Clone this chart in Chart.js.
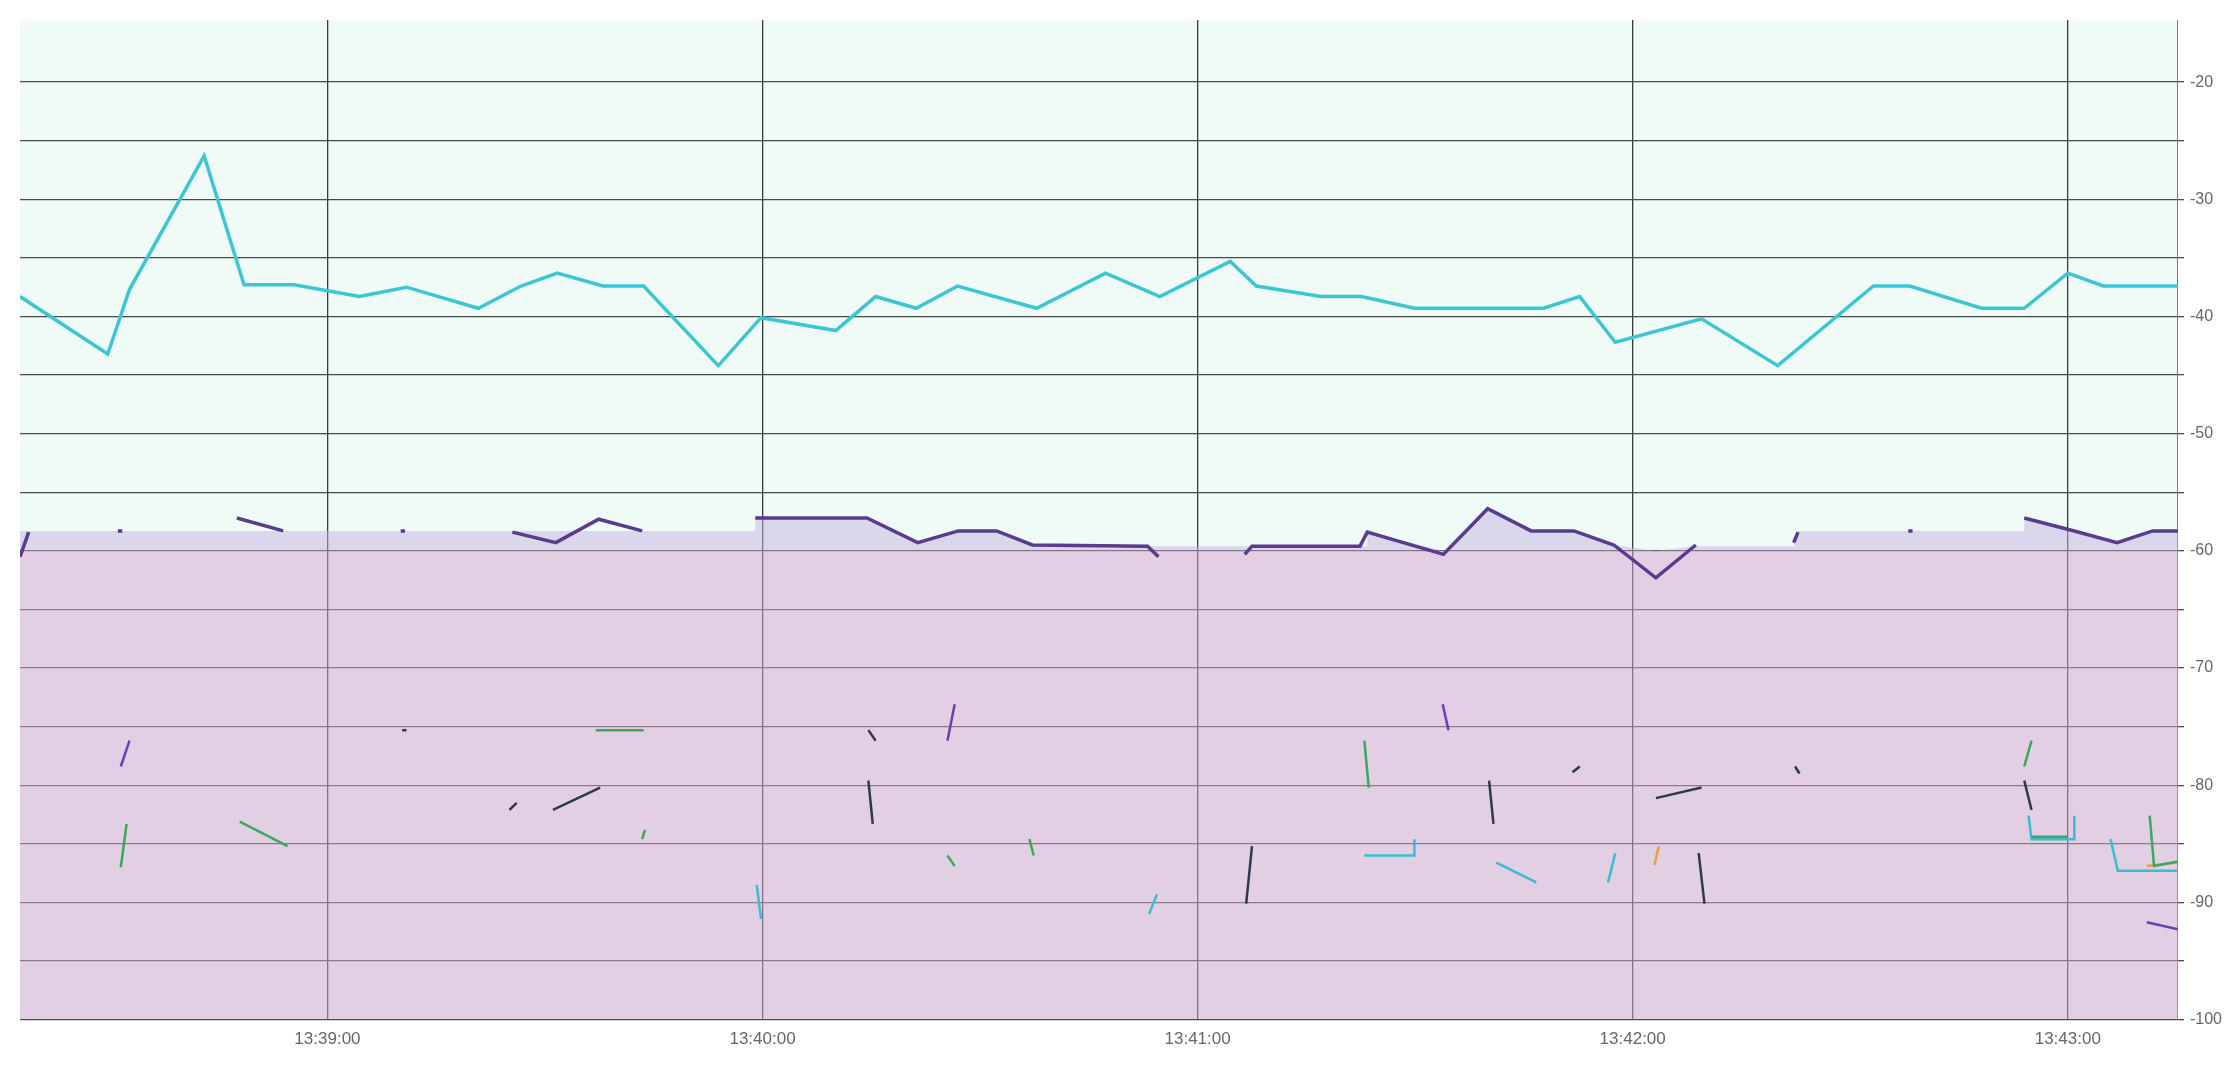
<!DOCTYPE html>
<html><head><meta charset="utf-8">
<script src="https://cdn.jsdelivr.net/npm/chart.js@4"></script>
<style>html,body{margin:0;background:#fff}canvas{display:block}</style>
</head><body><canvas id="c" width="2232" height="1068"></canvas>
<script>
// time in seconds after 13:38:00, level in dB
const xTicks = [60,120,180,240,300];
const yTicks = [-20,-30,-40,-50,-60,-70,-80,-90,-100];
const cyanT = [17.6,29.7,32.7,43.0,48.5,55.4,64.4,70.9,80.8,86.7,91.7,98.0,103.6,113.9,119.8,130.1,135.6,141.2,146.9,157.8,167.3,174.8,184.5,188.1,197.0,202.6,209.9,227.7,232.7,237.6,249.5,260.0,273.2,278.2,288.1,294.0,300.0,304.9,315.2];
const cyanV = [-38.3,-43.2,-37.7,-26.3,-37.3,-37.3,-38.3,-37.5,-39.3,-37.4,-36.3,-37.4,-37.4,-44.2,-40.1,-41.2,-38.3,-39.3,-37.4,-39.3,-36.3,-38.3,-35.3,-37.4,-38.3,-38.3,-39.3,-39.3,-38.3,-42.2,-40.2,-44.2,-37.4,-37.4,-39.3,-39.3,-36.3,-37.4,-37.4];
const purpleMain = [[17.6,-60.5],[18.8,-58.4],null,[31.1,-58.3],[31.7,-58.3],null,[47.5,-57.2],[53.9,-58.3],null,[70.1,-58.3],[70.7,-58.3],null,
 [85.5,-58.4],[91.5,-59.3],[97.4,-57.3],[103.4,-58.3],null,
 [119.0,-57.2],[134.4,-57.2],[141.4,-59.3],[147.0,-58.3],[152.3,-58.3],[157.2,-59.5],[173.1,-59.6],[174.6,-60.5],null,
 [186.5,-60.3],[187.5,-59.6],[202.4,-59.6],[203.4,-58.4],[213.9,-60.3],[220.0,-56.4],[226.0,-58.3],[231.9,-58.3],[237.4,-59.5],[243.2,-62.3],[248.7,-59.5],null,
 [262.2,-59.3],[262.8,-58.4],null,[278.0,-58.3],[278.6,-58.3],null,
 [294.0,-57.2],[300.9,-58.3],[306.8,-59.3],[311.7,-58.3],[315.2,-58.3]];
const envelope = [[17.6,-58.3],[119,-58.3],[119,-57.2],[134.4,-57.2],[141.4,-59.3],[147,-58.3],[152.3,-58.3],[157.2,-59.6],[203.4,-59.6],[203.4,-58.4],[213.9,-60],[220,-56.4],[226,-58.3],[232,-58.3],[237.4,-59.5],[243.2,-60],[248.7,-59.6],[262.2,-59.6],[262.8,-58.3],[294,-58.3],[294,-57.2],[300.9,-58.3],[306.8,-59.3],[311.7,-58.3],[315.2,-58.3]];
const floorLine = [[17.6,-60],[315.2,-60]];
const darkFrags = [[70.3,-75.3],[70.9,-75.3],null,[85.1,-82.1],[86.1,-81.5],null,[91.1,-82.1],[97.6,-80.2],null,[134.6,-75.3],[135.6,-76.2],null,[134.6,-79.6],[135.2,-83.3],null,[186.7,-90.1],[187.5,-85.2],null,[220.2,-79.6],[220.8,-83.3],null,[231.7,-78.9],[232.7,-78.4],null,[243.2,-81.1],[249.5,-80.2],null,[249.1,-85.8],[249.9,-90.1],null,[262.4,-78.4],[263.0,-79.0],null,[294.0,-79.6],[295.0,-82.1]];
const greenFrags = [[31.5,-87.0],[32.3,-83.3],null,[47.9,-83.1],[54.5,-85.2],null,[97.0,-75.3],[103.6,-75.3],null,[103.4,-84.6],[103.8,-83.8],null,[145.5,-86.0],[146.5,-86.9],null,[156.8,-84.6],[157.4,-86.0],null,[203.0,-76.2],[203.6,-80.2],null,[294.0,-78.4],[295.0,-76.2],null,[295.0,-84.4],[300.0,-84.4],null,[311.3,-82.6],[311.9,-86.9],[315.2,-86.5]];
const purpleFrags = [[31.5,-78.4],[32.7,-76.2],null,[145.5,-76.2],[146.5,-73.1],null,[213.8,-73.1],[214.6,-75.3],null,[310.9,-91.7],[315.2,-92.3]];
const tealFrags = [[119.2,-88.5],[119.8,-91.4],null,[173.3,-91.0],[174.4,-89.3],null,[203.0,-86.0],[209.9,-86.0],[209.9,-84.6],null,[221.2,-86.6],[226.7,-88.3],null,[236.6,-88.3],[237.6,-85.8],null,[294.6,-82.6],[295.0,-84.6],[300.9,-84.6],[300.9,-82.6],null,[305.9,-84.6],[306.9,-87.3],[315.2,-87.3]];
const orangeFrags = [[243.0,-86.8],[243.6,-85.2],null,[310.9,-86.9],[315.2,-86.6]];

const pts = a => a.map(p => p ? {x:p[0], y:p[1]} : {x:NaN, y:null});
const seg = (data, color, w) => ({data: pts(data), borderColor: color, borderWidth: w, pointRadius: 0, fill: false, spanGaps: false, tension: 0});

const bgPlugin = {id:'bg', beforeDraw(c){const a=c.chartArea, x=c.ctx; x.save(); x.fillStyle='#f0fbf8'; x.fillRect(a.left,a.top,a.right-a.left,a.bottom-a.top); x.restore();}};

new Chart(document.getElementById('c'), {
  type: 'line',
  data: { datasets: [
    seg(cyanT.map((t,i)=>[t,cyanV[i]]), '#3cc6d2', 3.5),
    seg(purpleMain, '#5a3b8e', 3.5),
    seg(darkFrags, '#2b3a50', 2.5),
    seg(greenFrags, '#3aa860', 2.5),
    seg(purpleFrags, '#6a3fb0', 2.5),
    seg(tealFrags, '#3bbcd0', 2.5),
    seg(orangeFrags, '#e8a040', 2.5),
    {data: pts(floorLine), borderWidth: 0, pointRadius: 0, fill: 'start', backgroundColor: 'rgba(213,163,207,0.5)'},
    {data: pts(envelope), borderWidth: 0, pointRadius: 0, fill: 7, backgroundColor: 'rgba(195,177,221,0.5)'}
  ]},
  options: {
    responsive: false, animation: false,
    layout: {padding: {left: 20, top: 20, right: 4, bottom: 8}},
    plugins: {legend: {display: false}, tooltip: {enabled: false}},
    scales: {
      x: {type: 'linear', min: 17.6, max: 315.2,
        afterBuildTicks: s => { s.ticks = xTicks.map(v => ({value: v})); },
        grid: {color: '#3a3a3a', lineWidth: 1.3, drawTicks: false},
        border: {display: false},
        ticks: {color: '#666', font: {family: 'Liberation Sans', size: 17}, padding: 10,
          callback: v => { const m = 38 + Math.floor(v/60), s = Math.round(v%60); return '13:' + m + ':' + String(s).padStart(2,'0'); }}},
      y: {position: 'right', min: -100, max: -14.7,
        afterBuildTicks: s => { const t=[]; for (let v=-100; v<=-20; v+=5) t.push({value:v}); s.ticks = t; },
        grid: {color: '#4a4a4a', lineWidth: 1.3, drawTicks: true, tickLength: 6},
        border: {display: true, color: '#777'},
        ticks: {color: '#666', font: {family: 'Liberation Sans', size: 16}, padding: 6,
          callback: v => (v % 10 === 0 && yTicks.includes(v)) ? String(v) : ''}}
    }
  },
  plugins: [bgPlugin]
});
</script></body></html>
